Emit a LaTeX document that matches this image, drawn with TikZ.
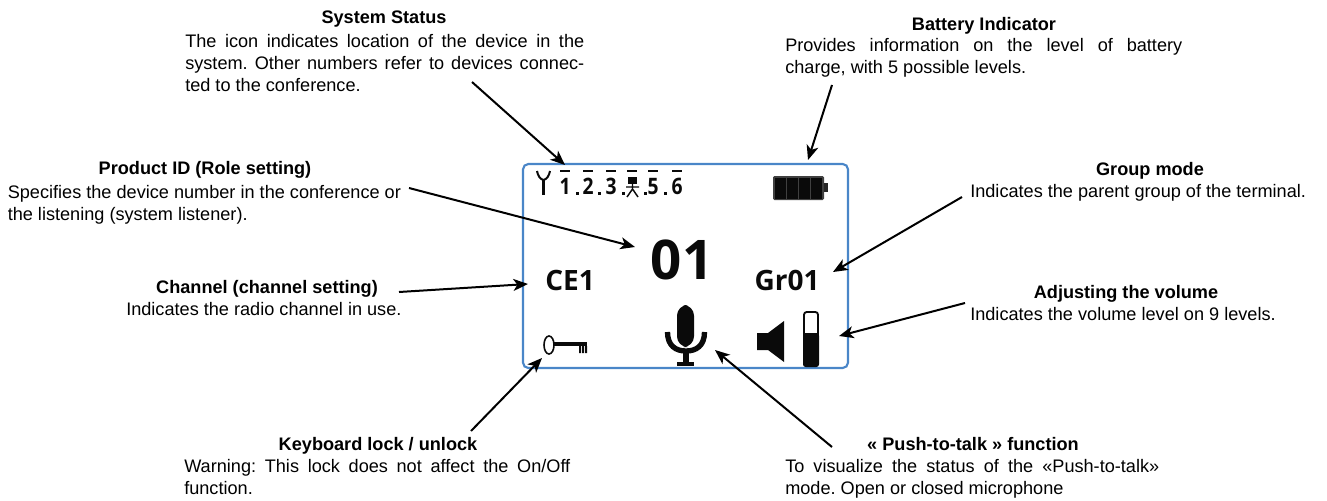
\documentclass[tikz,border=0pt]{standalone}
\usepackage{fontspec}
\setmainfont{Liberation Sans}
\newfontfamily\lcdfont{Open Sans}
\newfontfamily\digfont{Open Sans}[FakeStretch=0.85]
\usetikzlibrary{arrows.meta}
\definecolor{lcdblue}{HTML}{4A86C8}
\definecolor{lcdblack}{HTML}{0A0A0A}
\newlength{\pxu}\setlength{\pxu}{0.75pt}
\newcommand{\jline}[2]{\makebox[#1\pxu][s]{#2}}
\frenchspacing
\tikzset{
  x=0.75pt,y=-0.75pt,
  txt/.style={inner sep=0pt,font=\fontsize{13.6pt}{16.5pt}\selectfont,align=left,anchor=north west},
  ttl/.style={inner sep=0pt,font=\fontsize{13.6pt}{16.5pt}\selectfont\bfseries,anchor=base},
  arrowline/.style={draw=black,line width=1.5pt,-{Stealth[length=11pt,width=9pt,inset=3pt]}},
  lcd/.style={inner sep=0pt,text=lcdblack,font=\lcdfont\bfseries\fontsize{#1}{#1}\selectfont},
  digit/.style={inner sep=0pt,text=lcdblack,font=\digfont\bfseries\fontsize{17pt}{17pt}\selectfont},
  ink/.style={fill=lcdblack,draw=none},
}
\begin{document}
\begin{tikzpicture}
\useasboundingbox (0,0) rectangle (1327,500);
% titles and texts
\node[ttl] (t1) at (384,23) {System Status};
\node[txt] (d1) at (185,34) {\jline{399}{The icon indicates location of the device in the}\\\jline{399}{system. Other numbers refer to devices connec-}\\ted to the conference.};
\node[ttl] (t2) at (984,30) {Battery Indicator};
\node[txt] (d2) at (785,38) {\jline{397}{Provides information on the level of battery}\\charge, with 5 possible levels.};
\node[ttl] (t3) at (205,174) {Product ID (Role setting)};
\node[txt] (d3) at (7.5,185) {Specifies the device number in the conference or\\the listening (system listener).};
\node[ttl] (t4) at (267,293) {Channel (channel setting)};
\node[txt] (d4) at (126,302) {Indicates the radio channel in use.};
\node[ttl] (t5) at (378,450) {Keyboard lock / unlock};
\node[txt] (d5) at (184,459) {\jline{386}{Warning: This lock does not affect the On/Off}\\function.};
\node[ttl] (t6) at (973,450) {« Push-to-talk » function};
\node[txt] (d6) at (785,459) {\jline{374}{To visualize the status of the «Push-to-talk»}\\mode. Open or closed microphone};
\node[ttl] (t7) at (1150,175) {Group mode};
\node[txt] (d7) at (970,184) {Indicates the parent group of the terminal.};
\node[ttl] (t8) at (1126,298) {Adjusting the volume};
\node[txt] (d8) at (970,307) {Indicates the volume level on 9 levels.};
% display
\draw[lcdblue,line width=1.6pt,rounded corners=4pt] (523,164) rectangle (848,368);
% status row
\fill[lcdblack] (542,179) rectangle (545,195);
\draw[lcdblack,line width=1.5pt] (537,171) .. controls (538,176) and (540,179) .. (543.5,180) .. controls (547,179) and (549,176) .. (550,171);
\foreach \n/\x/\d in {a/565/1,b/588/2,c/611/3,e/653/5,f/677/6}{
  \node[digit] (dig\n) at (\x,186.5) {\d};
  \fill[lcdblack] (\x-5,170) rectangle (\x+5,172);
}
\fill[lcdblack] (627,170) rectangle (637,172);
\foreach \x in {577,599,623,645,665}{\fill[lcdblack] (\x-1.5,192) rectangle (\x+1.5,195);}
\fill[lcdblack] (628,177) rectangle (637,184);
\draw[lcdblack,line width=1.1pt] (632.5,184) -- (632.5,189) (626,187) -- (639,187) (632.5,189) -- (627,197) (632.5,189) -- (638,197);
% battery
\fill[rounded corners=1pt,fill=black!75] (773,176) rectangle (824,200);
\fill[black!85] (824,183) rectangle (828,192);
\foreach \x in {774.5,786.5,798.5,810.5}{\fill[lcdblack] (\x,177.5) rectangle (\x+11,198.5);}
% big labels
\node[lcd=41pt] (num) at (682,260) {01};
\node[lcd=21pt] (ce) at (570,280) {CE1};
\node[lcd=21pt] (gr) at (787,280) {Gr01};
% key
\draw[lcdblack,line width=1.2pt] (549,345) ellipse (5 and 9);
\fill[ink] (554,342) rectangle (587,346);
\fill[ink] (579,346) rectangle (581,353) (582,346) rectangle (584,353) (585,346) rectangle (587,353);
% microphone
\fill[ink,rounded corners=8pt] (677,305) rectangle (694,347);
\draw[lcdblack,line width=4pt] (667.5,332) .. controls (667.5,346) and (676,351) .. (686,351) .. controls (696,351) and (704.5,346) .. (704.5,332);
\fill[ink] (683,351) rectangle (689,362);
\fill[ink] (677,362) rectangle (694,366);
% speaker
\fill[ink] (757,333) -- (768,333) -- (784,321) -- (784,362) -- (768,350) -- (757,350) -- cycle;
% slider
\draw[lcdblack,line width=1.4pt,rounded corners=2pt] (804,312) rectangle (818,366);
\fill[ink,rounded corners=2pt] (803,333) rectangle (819,367);
% arrow ends
\coordinate (e1) at (565,165); \coordinate (s1) at (472,82);
\coordinate (e2) at (808,160); \coordinate (s2) at (832,85);
\coordinate (e3) at (635,247); \coordinate (s3) at (409,188);
\coordinate (e4) at (528,284); \coordinate (s4) at (399,292);
\coordinate (e5) at (542,358); \coordinate (s5) at (471,431);
\coordinate (e6) at (715,350); \coordinate (s6) at (832,447);
\coordinate (e7) at (833,272); \coordinate (s7) at (962,197);
\coordinate (e8) at (839,336); \coordinate (s8) at (965,303);
\foreach \i in {1,...,8}{\draw[arrowline] (s\i) -- (e\i);}
\end{tikzpicture}
\end{document}
